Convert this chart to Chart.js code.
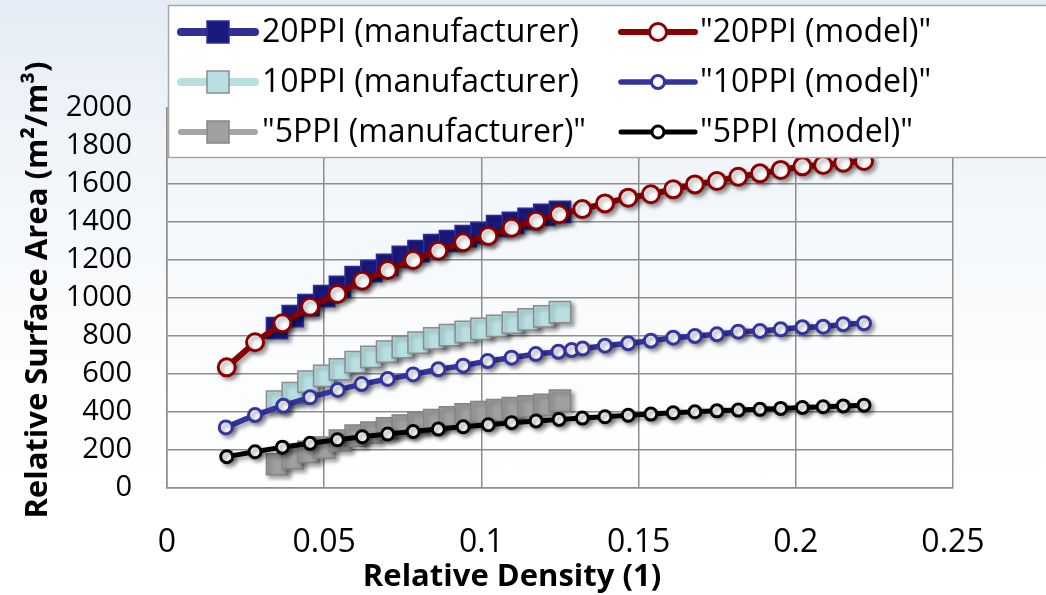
<!DOCTYPE html>
<html>
<head>
<meta charset="utf-8">
<script src="https://cdn.jsdelivr.net/npm/chart.js@4/dist/chart.umd.min.js"></script>
<style>
  html, body { margin: 0; padding: 0; overflow: hidden; }
  body {
    width: 1046px; height: 595px;
    background: linear-gradient(to bottom, #e5ecf5 0%, #eff4f9 22%, #f8fafc 50%, #fdfeff 70%, #ffffff 100%);
  }
  canvas { display: block; }
</style>
</head>
<body>
<canvas id="myChart" width="1046" height="595"></canvas>
<script>
// manufacturer data (relative density vs relative surface area)
const mfrDensity = [0.035, 0.040, 0.045, 0.050, 0.055, 0.060, 0.065, 0.070, 0.075, 0.080,
                    0.085, 0.090, 0.095, 0.100, 0.105, 0.110, 0.115, 0.120, 0.125];
const ppi20Mfr = [842, 905, 963, 1010, 1058, 1110, 1142, 1174, 1216, 1247,
                  1279, 1300, 1326, 1342, 1379, 1395, 1416, 1437, 1453];
const ppi10Mfr = [455, 500, 560, 590, 625, 662, 690, 718, 742, 765,
                  788, 805, 822, 838, 853, 870, 887, 903, 926];
const ppi5Mfr = [125, 157, 190, 212, 250, 276, 292, 314, 329, 342,
                 357, 372, 388, 400, 410, 420, 430, 438, 460];

// model data
const modelDensity = [0.0190, 0.0280, 0.0367, 0.0455, 0.0542, 0.0621, 0.0702, 0.0783, 0.0863, 0.0942,
                      0.1022, 0.1096, 0.1174, 0.1247, 0.1321, 0.1393, 0.1467, 0.1539, 0.1610, 0.1679,
                      0.1749, 0.1817, 0.1886, 0.1952, 0.2021, 0.2087, 0.2151, 0.2217];
const ppi20Model = [635, 767, 867, 954, 1021, 1091, 1147, 1200, 1249, 1293,
                    1326, 1370, 1407, 1441, 1468, 1498, 1528, 1546, 1572, 1598,
                    1616, 1638, 1656, 1674, 1693, 1700, 1712, 1721];
const ppi5Model = [165, 191, 215, 235, 254, 270, 284, 297, 310, 322,
                   333, 344, 353, 361, 368, 375, 383, 389, 396, 401,
                   406, 410, 414, 419, 424, 428, 432, 436];
// the 10PPI model curve has one extra point near 0.129
const model10Density = [0.0187, 0.0280, 0.0370, 0.0455, 0.0543, 0.0619, 0.0702, 0.0783, 0.0863, 0.0942,
                        0.1020, 0.1096, 0.1173, 0.1245, 0.1287, 0.1322, 0.1393, 0.1467, 0.1539, 0.1610,
                        0.1679, 0.1749, 0.1817, 0.1886, 0.1952, 0.2021, 0.2087, 0.2151, 0.2217];
const ppi10Model = [319, 384, 433, 477, 516, 547, 574, 598, 625, 644,
                    668, 686, 705, 717, 726, 734, 749, 762, 775, 791,
                    800, 809, 823, 826, 835, 846, 849, 862, 867];

const xTicks = [0, 0.05, 0.1, 0.15, 0.2, 0.25];
const yTicks = [0, 200, 400, 600, 800, 1000, 1200, 1400, 1600, 1800, 2000];

const FONT = "'Open Sans', sans-serif";
const GRID = '#8e8e8e';

const pts = (xs, ys) => xs.map((x, i) => ({ x: x, y: ys[i] }));

function mfrSet(label, xs, ys, fill, border, line, lw) {
    return {
        label: label,
        data: pts(xs, ys),
        showLine: true,
        borderColor: line,
        borderWidth: 4,
        pointStyle: 'rect',
        pointRadius: 15,
        pointHoverRadius: 15,
        pointBackgroundColor: fill,
        pointBorderColor: border,
        pointBorderWidth: 1.5,
        legendLine: lw,
        order: 2
    };
}

function modelSet(label, xs, ys, color, r, lw) {
    return {
        label: label,
        data: pts(xs, ys),
        showLine: true,
        borderColor: color,
        borderWidth: lw,
        pointStyle: 'circle',
        pointRadius: r,
        pointHoverRadius: r,
        pointBackgroundColor: '#ffffff',
        pointBorderColor: color,
        pointBorderWidth: 3,
        legendLine: lw,
        order: 1
    };
}

const datasets = [
    mfrSet('20PPI (manufacturer)', mfrDensity, ppi20Mfr, '#1a1a7c', '#2c2c9e', '#2e3192', 8),
    mfrSet('10PPI (manufacturer)', mfrDensity, ppi10Mfr, '#b8e0e3', '#8c8c8c', '#b8e0e3', 8),
    mfrSet('"5PPI (manufacturer)"', mfrDensity, ppi5Mfr, '#a0a0a0', '#858585', '#a6a6a6', 6),
    modelSet('"20PPI (model)"', modelDensity, ppi20Model, '#8b0000', 8.5, 6),
    modelSet('"10PPI (model)"', model10Density, ppi10Model, '#3434a0', 6.5, 5.5),
    modelSet('"5PPI (model)"', modelDensity, ppi5Model, '#000000', 6, 5)
];

// soft drop shadow like the office chart
const shadowPlugin = {
    id: 'shadow',
    beforeDatasetDraw(chart) {
        const c = chart.ctx;
        c.save();
        c.shadowColor = 'rgba(0,0,0,0.35)';
        c.shadowBlur = 4;
        c.shadowOffsetX = 3;
        c.shadowOffsetY = 3;
    },
    afterDatasetDraw(chart) {
        chart.ctx.restore();
    }
};

// legend box overlapping the plot + axis titles
const overlayPlugin = {
    id: 'overlay',
    afterDraw(chart) {
        const c = chart.ctx;
        const ds = chart.data.datasets;
        c.save();

        c.fillStyle = '#ffffff';
        c.strokeStyle = '#a6a6a6';
        c.lineWidth = 1.5;
        c.fillRect(168.5, 5.5, 900, 152);
        c.strokeRect(168.5, 5.5, 900, 152);

        const cols = [{ x1: 181, x2: 255, m: 218, t: 262 }, { x1: 621, x2: 695, m: 658, t: 700 }];
        const rows = [32, 82, 132];
        ds.forEach((d, i) => {
            const col = cols[Math.floor(i / 3)];
            const y = rows[i % 3];
            c.lineCap = 'round';
            c.strokeStyle = d.borderColor;
            c.lineWidth = d.legendLine;
            c.beginPath();
            c.moveTo(col.x1, y);
            c.lineTo(col.x2, y);
            c.stroke();

            c.fillStyle = d.pointBackgroundColor;
            c.strokeStyle = d.pointBorderColor;
            c.lineWidth = d.pointBorderWidth;
            c.beginPath();
            if (d.pointStyle === 'rect') {
                c.rect(col.m - 11, y - 11, 22, 22);
            } else {
                c.arc(col.m, y, d.pointRadius, 0, Math.PI * 2);
            }
            c.fill();
            c.stroke();

            c.fillStyle = '#000000';
            c.font = '32px ' + FONT;
            c.textAlign = 'left';
            c.textBaseline = 'middle';
            c.fillText(d.label, col.t, y + 1);
        });

        c.fillStyle = '#000000';
        c.font = 'bold 31px ' + FONT;
        c.textAlign = 'center';
        c.textBaseline = 'middle';
        c.fillText('Relative Density (1)', 512, 577);

        c.translate(38, 290);
        c.rotate(-Math.PI / 2);
        c.fillText('Relative Surface Area (m²/m³)', 0, 0);
        c.restore();
    }
};

const ctx = document.getElementById('myChart').getContext('2d');
new Chart(ctx, {
    type: 'scatter',
    data: { datasets: datasets },
    options: {
        responsive: false,
        devicePixelRatio: 1,
        animation: false,
        layout: { padding: { top: 108, right: 93, left: 0, bottom: 0 } },
        plugins: {
            legend: { display: false },
            tooltip: { enabled: false }
        },
        scales: {
            x: {
                type: 'linear',
                min: 0,
                max: 0.25,
                afterBuildTicks: s => { s.ticks = xTicks.map(v => ({ value: v })); },
                afterFit: s => { s.height = 107; },
                grid: { color: GRID, lineWidth: 1.5, drawTicks: false },
                border: { color: GRID, width: 1.5 },
                ticks: {
                    padding: 36,
                    autoSkip: false,
                    color: '#000',
                    font: { family: FONT, size: 32 },
                    maxRotation: 0,
                    callback: v => String(+v.toFixed(2))
                }
            },
            y: {
                min: 0,
                max: 2000,
                afterBuildTicks: s => { s.ticks = yTicks.map(v => ({ value: v })); },
                afterFit: s => { s.width = 167; },
                grid: { color: GRID, lineWidth: 1.5, drawTicks: false },
                border: { color: GRID, width: 1.5 },
                ticks: {
                    padding: 35,
                    autoSkip: false,
                    color: '#000',
                    font: { family: FONT, size: 29 },
                    callback: v => String(v)
                }
            }
        }
    },
    plugins: [shadowPlugin, overlayPlugin]
});
</script>
</body>
</html>
